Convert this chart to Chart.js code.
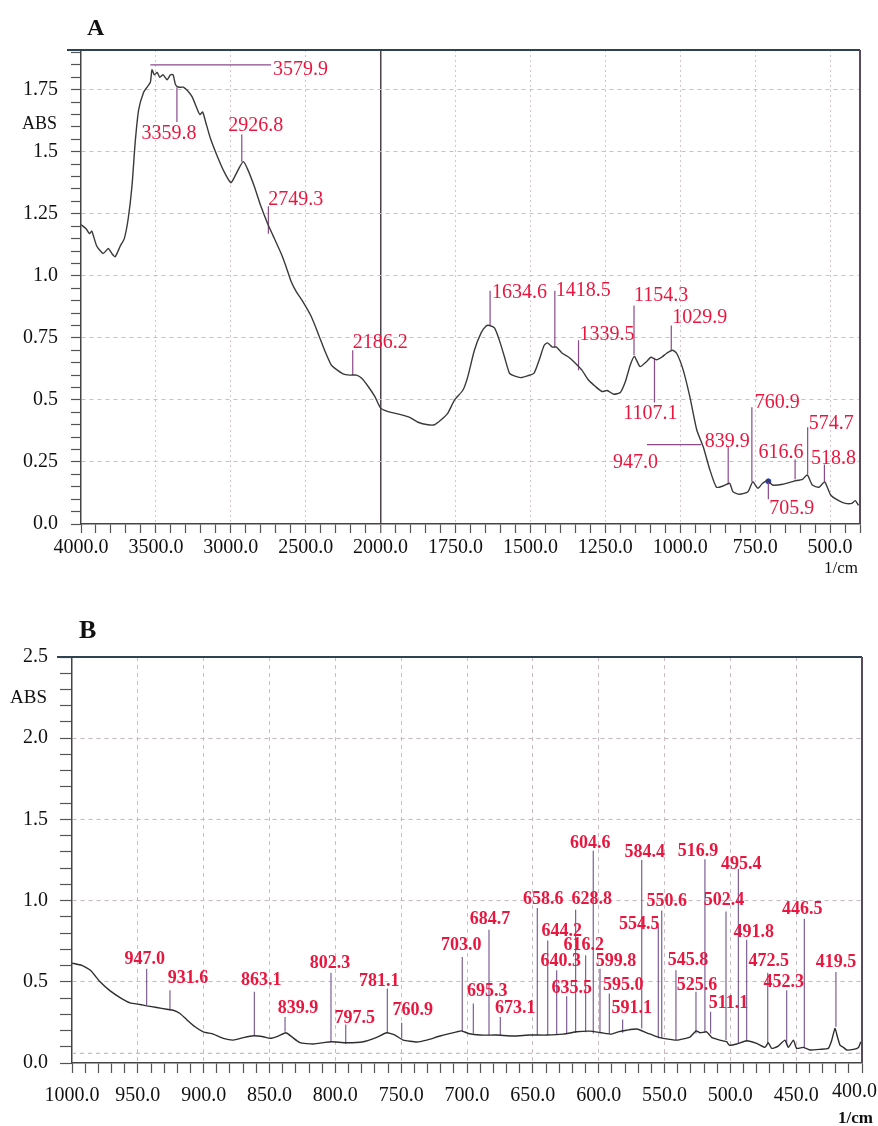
<!DOCTYPE html>
<html>
<head>
<meta charset="utf-8">
<script src="https://cdn.jsdelivr.net/npm/chart.js@4.4.1/dist/chart.umd.min.js"></script>
<style>
  body { margin: 0; background: #fff; }
  canvas { position: absolute; left: 0; }
  #chartA { top: 0; }
  #chartB { top: 580px; }
</style>
</head>
<body>
<canvas id="chartA" width="878" height="580"></canvas>
<canvas id="chartB" width="878" height="546"></canvas>
<script>
// ---- panel A : full spectrum 4000 - 400 1/cm ----
const wnA = [4000, 3966, 3944, 3928, 3895, 3852, 3818, 3794, 3772, 3738, 3711, 3685, 3660, 3638, 3615, 3582,
  3559, 3537, 3526, 3510, 3492, 3474, 3452, 3425, 3403, 3385, 3369, 3347, 3317, 3280, 3257, 3223, 3206, 3188,
  3168, 3134, 3089, 3045, 3000, 2978, 2944, 2917, 2888, 2843, 2799, 2754, 2720, 2664, 2631, 2597, 2564, 2519,
  2463, 2418, 2374, 2329, 2307, 2251, 2206, 2161, 2128, 2083, 2038, 2000, 1975, 1930, 1903, 1875, 1842, 1820,
  1798, 1776, 1753, 1725, 1709, 1687, 1665, 1648, 1637, 1620, 1604, 1587, 1570, 1554, 1532, 1510, 1488, 1471,
  1454, 1443, 1427, 1413, 1394, 1372, 1350, 1328, 1306, 1283, 1261, 1244, 1222, 1200, 1183, 1167, 1153, 1134,
  1112, 1098, 1080, 1062, 1045, 1026, 1012, 990, 968, 945, 923, 901, 879, 857, 835, 824, 802, 774, 758, 741,
  725, 708, 692, 658, 620, 592, 576, 559, 537, 518, 498, 471, 449, 427, 416, 405];
const absA = [1.206, 1.19, 1.17, 1.18, 1.12, 1.09, 1.11, 1.09, 1.077, 1.12, 1.15, 1.23, 1.36, 1.54, 1.67, 1.74,
  1.76, 1.78, 1.83, 1.81, 1.82, 1.80, 1.81, 1.79, 1.81, 1.81, 1.77, 1.76, 1.76, 1.74, 1.72, 1.67, 1.65, 1.66,
  1.62, 1.55, 1.48, 1.42, 1.375, 1.395, 1.435, 1.46, 1.43, 1.36, 1.28, 1.21, 1.165, 1.09, 1.037, 0.977, 0.937, 0.896,
  0.836, 0.769, 0.70, 0.64, 0.628, 0.605, 0.60, 0.60, 0.588, 0.554, 0.513, 0.467, 0.453, 0.44, 0.43, 0.41, 0.40, 0.40,
  0.42, 0.446, 0.50, 0.54, 0.594, 0.70, 0.769, 0.798, 0.80, 0.79, 0.742, 0.675, 0.608, 0.597, 0.59, 0.597, 0.608, 0.66,
  0.72, 0.73, 0.713, 0.713, 0.688, 0.672, 0.648, 0.62, 0.58, 0.554, 0.534, 0.538, 0.523, 0.53, 0.574, 0.64, 0.675, 0.634,
  0.655, 0.672, 0.662, 0.672, 0.688, 0.70, 0.688, 0.62, 0.513, 0.38, 0.31, 0.218, 0.148, 0.153, 0.164, 0.13, 0.12, 0.13, 0.17, 0.144,
  0.164, 0.175, 0.157, 0.16, 0.173, 0.18, 0.198, 0.157, 0.148, 0.17, 0.117, 0.094, 0.083, 0.083, 0.094, 0.075];

// printed peak values, where their leader lines sit on the plot, and leader ends
const peakWnA     = [3579.9, 3359.8, 2926.8, 2749.3, 2186.2, 1634.6, 1418.5, 1339.5, 1154.3, 1107.1, 1029.9, 947.0, 839.9, 760.9, 705.9, 616.6, 574.7, 518.8];
const peakLineWnA = [3537, 3359.8, 2926.8, 2749.3, 2186.2, 1634.6, 1418.5, 1339.5, 1154.3, 1086, 1029.9, 930, 839.9, 760.9, 705.9, 616.6, 574.7, 518.8];
const peakBaseA   = [1.85, 1.76, 1.46, 1.17, 0.60, 0.80, 0.71, 0.62, 0.68, 0.67, 0.70, 0.32, 0.16, 0.17, 0.17, 0.18, 0.20, 0.17];
const peakTipA    = [1.85, 1.62, 1.57, 1.28, 0.70, 0.94, 0.94, 0.74, 0.88, 0.49, 0.80, 0.32, 0.31, 0.47, 0.10, 0.26, 0.39, 0.24];
// horizontal leaders end at another wavenumber, vertical ones use null
const peakEndWnA  = [2731, null, null, null, null, null, null, null, null, null, null, 1111, null, null, null, null, null, null];

const majorTicksA = [4000, 3500, 3000, 2500, 2000, 1750, 1500, 1250, 1000, 750, 500];

// ---- panel B : 1000 - 400 1/cm ----
const wnB = [1000, 992.6, 986, 978.7, 971, 963.5, 955.9, 948.4, 943.3, 935.7, 928.1, 923.1, 918, 913, 906.6, 900.3,
  892.7, 885.1, 877.5, 869.9, 862.3, 854.7, 849.6, 843.3, 837.5, 833.2, 826.8, 816.7, 807.9, 802.8, 791.4, 778.8,
  768.6, 761, 754.7, 748.4, 738.2, 730.6, 720.5, 707.8, 704, 699, 690.1, 677.5, 664.8, 652.2, 639.5, 626.9, 616.7,
  606.6, 597.7, 590.1, 585.1, 578.7, 571.1, 563.5, 555.9, 550.9, 540.8, 530.6, 526, 523, 518, 514.2, 507.9, 502.8,
  500.8, 495.2, 487.6, 480, 473.7, 471.2, 468.6, 463.6, 458.5, 455.9, 452.1, 449.6, 444.5, 439.5, 431.9, 425.6,
  423.1, 420.5, 418.7, 416.7, 414.1, 411.6, 406.5, 402.7, 400.9];
const absB = [0.615, 0.601, 0.571, 0.50, 0.444, 0.403, 0.370, 0.36, 0.352, 0.342, 0.331, 0.325, 0.305, 0.268, 0.223, 0.192,
  0.178, 0.152, 0.141, 0.156, 0.168, 0.162, 0.152, 0.166, 0.186, 0.162, 0.125, 0.117, 0.127, 0.131, 0.125, 0.131,
  0.158, 0.186, 0.172, 0.141, 0.129, 0.141, 0.166, 0.192, 0.198, 0.182, 0.172, 0.172, 0.166, 0.172, 0.172, 0.178, 0.192,
  0.196, 0.186, 0.178, 0.192, 0.202, 0.209, 0.186, 0.162, 0.152, 0.141, 0.160, 0.198, 0.186, 0.192, 0.158, 0.141, 0.131,
  0.11, 0.117, 0.137, 0.121, 0.096, 0.125, 0.09, 0.104, 0.141, 0.096, 0.141, 0.09, 0.096, 0.08, 0.084, 0.09,
  0.137, 0.213, 0.162, 0.11, 0.096, 0.08, 0.084, 0.096, 0.131];

const peakWnB = [947.0, 931.6, 863.1, 839.9, 802.3, 797.5, 781.1, 760.9, 703.0, 695.3, 684.7, 673.1, 658.6, 644.2,
  640.3, 635.5, 628.8, 616.2, 604.6, 599.8, 595.0, 591.1, 584.4, 554.5, 550.6, 545.8, 525.6, 516.9, 511.1, 502.4,
  495.4, 491.8, 472.5, 452.3, 446.5, 419.5];
const peakLineWnB = [943.3, 925.6, 861.5, 838.2, 803.3, 792.1, 760.5, 749.6, 703.6, 695.2, 683.3, 674.7, 646.6, 638.7,
  631.9, 624.3, 617.5, 609.9, 604.1, 599.0, 591.9, 581.8, 567.3, 554.7, 552.1, 541.3, 526.1, 519.3, 515.0, 503.3,
  493.9, 487.6, 471.6, 457.2, 443.8, 419.8];
const peakBaseB = [0.356, 0.325, 0.166, 0.192, 0.131, 0.117, 0.186, 0.152, 0.192, 0.182, 0.172, 0.172, 0.172, 0.172,
  0.172, 0.178, 0.184, 0.19, 0.182, 0.182, 0.178, 0.186, 0.213, 0.152, 0.152, 0.141, 0.182, 0.192, 0.182, 0.141,
  0.121, 0.131, 0.121, 0.11, 0.09, 0.223];
const peakTipB = [0.581, 0.448, 0.438, 0.284, 0.555, 0.237, 0.458, 0.248, 0.652, 0.366, 0.82, 0.284, 0.955, 0.755,
  0.571, 0.411, 0.943, 0.663, 1.307, 0.581, 0.428, 0.268, 1.25, 0.84, 0.939, 0.571, 0.438, 1.254, 0.315, 0.933,
  1.195, 0.759, 0.555, 0.448, 0.888, 0.561];

// label placement (pixels, relative to the leader tip): [align, dx, dy]
const labelPosA = [['left', 2, 10], ['center', -8, 17], ['center', 14, -3], ['left', 0, -1], ['left', 0, -2],
  ['left', 2, 7], ['left', 1, 5], ['left', 1, 0], ['left', 0, -5], ['center', -4, 17], ['left', 1, -2],
  ['right', 11, 23], ['center', -1, 0], ['left', 3, 1], ['left', 1, 15], ['center', -14, -1], ['left', 1, 2], ['center', 9, 0]];
const labelDxB = [-2, 18, 7, 13, -1, 9, -8, 11, -1, 14, 1, 15, 6, 14, 4, 5, 16, -2, -3, 16, 14, 9, 3, -19, 5, 12, 1,
  -7, 18, -2, 3, 7, 1, -3, -2, 0];
const labelDyB = [-5, -7, -7, -4, -5, -2, -3, -8, -7, -8, -6, -4, -4, -4, -4, -3, -6, -5, -3, -3, -3, -6, -3, 2, -5,
  -5, -2, -3, -4, -6, 0, -3, -7, -3, -5, -5];

const SERIF = '"Liberation Serif", "Times New Roman", serif';
const RED = '#e8173f';

// x axis of panel A: scale doubles below 2000 1/cm
const BREAK_WN = 2000, BREAK_GAIN = 2;
class SplitScale extends Chart.LinearScale {
  _units(v) {
    const lo = this.min;
    return v >= BREAK_WN ? BREAK_GAIN * (BREAK_WN - lo) + (v - BREAK_WN) : BREAK_GAIN * (v - lo);
  }
  getPixelForValue(v) {
    if (v === null || v === undefined || isNaN(v)) return NaN;
    return this.getPixelForDecimal(this._units(v) / this._units(this.max));
  }
  getValueForPixel(p) {
    const u = this.getDecimalForPixel(p) * this._units(this.max);
    const k = BREAK_GAIN * (BREAK_WN - this.min);
    return u >= k ? BREAK_WN + (u - k) : this.min + u / BREAK_GAIN;
  }
}
SplitScale.id = 'split';
SplitScale.defaults = Chart.LinearScale.defaults;
Chart.register(SplitScale);

const isMult = (v, s) => Math.abs(v / s - Math.round(v / s)) < 1e-6;
const fmtAbs = v => {
  const r = Math.round(v * 100) / 100;
  return Number.isInteger(r) ? r.toFixed(1) : String(r);
};

function leaderData(lineWn, base, tip, endWn) {
  const out = [];
  lineWn.forEach((w, i) => {
    out.push({ x: w, y: base[i] });
    out.push({ x: endWn && endWn[i] ? endWn[i] : w, y: tip[i] });
    out.push({ x: w, y: null });
  });
  return out;
}

// frame, axis captions and peak labels
const extras = {
  id: 'extras',
  afterDraw(chart, args, o) {
    const { ctx, chartArea: a } = chart;
    const xs = chart.scales.x, ys = chart.scales.y;
    ctx.save();
    ctx.lineWidth = 2;
    ctx.strokeStyle = '#2f4250';
    ctx.beginPath(); ctx.moveTo(a.left - o.topOverhang, a.top); ctx.lineTo(a.right, a.top); ctx.stroke();
    ctx.strokeStyle = '#5b4a5e';
    ctx.beginPath(); ctx.moveTo(a.right, a.top); ctx.lineTo(a.right, a.bottom); ctx.stroke();

    o.texts.forEach(t => {
      ctx.font = t.font;
      ctx.fillStyle = t.color || '#111';
      ctx.textAlign = t.align || 'left';
      ctx.textBaseline = 'alphabetic';
      ctx.fillText(t.text, t.x, t.y);
    });

    const p = o.peaks;
    ctx.font = p.font;
    ctx.fillStyle = RED;
    ctx.textBaseline = 'alphabetic';
    p.wn.forEach((w, i) => {
      const end = p.endWn && p.endWn[i] ? p.endWn[i] : p.lineWn[i];
      const tx = xs.getPixelForValue(end), ty = ys.getPixelForValue(p.tip[i]);
      const [align, dx, dy] = p.pos(i);
      ctx.textAlign = align;
      ctx.fillText(w.toFixed(1), tx + dx, ty + dy);
    });
    ctx.restore();
  }
};
Chart.register(extras);

function zeroPad(scale) {
  scale.paddingLeft = scale.paddingRight = scale.paddingTop = scale.paddingBottom = 0;
}

// ---------- chart A ----------
const ticksA = [];
for (let v = 4000; v > 2000; v -= 100) ticksA.push(v);
for (let v = 2000; v >= 400; v -= 50) ticksA.push(v);

new Chart(document.getElementById('chartA'), {
  type: 'line',
  data: {
    datasets: [
      {
        data: wnA.map((w, i) => ({ x: w, y: absA[i] })),
        borderColor: '#3a3a3a', borderWidth: 1.4, pointRadius: 0, tension: 0.2
      },
      {
        data: leaderData(peakLineWnA, peakBaseA, peakTipA, peakEndWnA),
        borderColor: '#8c4a8c', borderWidth: 1.2, pointRadius: 0, spanGaps: false
      },
      {
        data: [{ x: 705.9, y: 0.172 }],
        borderColor: '#1d3fc0', backgroundColor: '#1d3fc0', pointRadius: 2.5, showLine: false
      }
    ]
  },
  options: {
    responsive: false, animation: false,
    layout: { padding: { left: 0, right: 18, top: 50, bottom: 0 } },
    plugins: {
      legend: { display: false }, tooltip: { enabled: false },
      extras: {
        topOverhang: 14,
        texts: [
          { text: 'A', x: 87, y: 35, font: 'bold 24px ' + SERIF },
          { text: 'ABS', x: 57, y: 129, font: '18px ' + SERIF, align: 'right' },
          { text: '1/cm', x: 858, y: 573, font: '17px ' + SERIF, align: 'right' }
        ],
        peaks: {
          wn: peakWnA, lineWn: peakLineWnA, tip: peakTipA, endWn: peakEndWnA,
          pos: i => labelPosA[i], font: '20px ' + SERIF
        }
      }
    },
    scales: {
      x: {
        type: 'split', min: 400, max: 4000, reverse: true,
        afterBuildTicks: s => { s.ticks = ticksA.map(v => ({ value: v })); },
        afterFit: s => { s.height = 56; zeroPad(s); },
        ticks: {
          autoSkip: false, maxRotation: 0, padding: 3,
          font: { family: SERIF, size: 20 }, color: '#111',
          callback: v => majorTicksA.includes(v) ? v.toFixed(1) : ''
        },
        grid: {
          tickLength: 9, tickColor: '#555', tickWidth: 1.2,
          color: c => (c.tick.value === 2000 ? '#4a4248' : (majorTicksA.includes(c.tick.value) && c.tick.value !== 4000 ? '#d8c4cc' : 'transparent')),
          lineWidth: c => (c.tick.value === 2000 ? 1.5 : 1)
        },
        border: { color: '#444', width: 1.5, dash: c => (c.tick && c.tick.value === 2000 ? [] : [2, 3]) }
      },
      y: {
        min: 0, max: 1.91,
        afterBuildTicks: s => {
          const t = [];
          for (let k = 0; k <= 38; k++) t.push({ value: Math.round(k * 5) / 100 });
          s.ticks = t;
        },
        afterFit: s => { s.width = 81; zeroPad(s); },
        ticks: {
          autoSkip: false, padding: 13,
          font: { family: SERIF, size: 20 }, color: '#111',
          callback: v => (isMult(v, 0.25) ? fmtAbs(v) : '')
        },
        grid: {
          tickLength: 10, tickColor: '#555', tickWidth: 1.2,
          color: c => (isMult(c.tick.value, 0.25) && c.tick.value > 0 ? '#a9cbdc' : 'transparent')
        },
        border: { color: '#444', width: 1.5, dash: [4, 4] }
      }
    }
  }
});

// ---------- chart B ----------
new Chart(document.getElementById('chartB'), {
  type: 'line',
  data: {
    datasets: [
      {
        data: wnB.map((w, i) => ({ x: w, y: absB[i] })),
        borderColor: '#2e2e2e', borderWidth: 1.4, pointRadius: 0, tension: 0.15
      },
      {
        data: leaderData(peakLineWnB, peakBaseB, peakTipB, null),
        borderColor: '#7d5f96', borderWidth: 1.2, pointRadius: 0, spanGaps: false
      },
      {
        data: [{ x: 1000, y: 0.06 }, { x: 400, y: 0.06 }],
        borderColor: '#b9aab4', borderWidth: 1, borderDash: [4, 4], pointRadius: 0
      }
    ]
  },
  options: {
    responsive: false, animation: false,
    layout: { padding: { left: 0, right: 16, top: 77, bottom: 0 } },
    plugins: {
      legend: { display: false }, tooltip: { enabled: false },
      extras: {
        topOverhang: 15,
        texts: [
          { text: 'B', x: 79, y: 58, font: 'bold 26px ' + SERIF },
          { text: 'ABS', x: 47, y: 123, font: '19px ' + SERIF, align: 'right' },
          { text: '400.0', x: 877, y: 517, font: '20px ' + SERIF, align: 'right' },
          { text: '1/cm', x: 873, y: 543, font: 'bold 17px ' + SERIF, align: 'right' }
        ],
        peaks: {
          wn: peakWnB, lineWn: peakLineWnB, tip: peakTipB, endWn: null,
          pos: i => ['center', labelDxB[i], labelDyB[i]], font: 'bold 18px ' + SERIF
        }
      }
    },
    scales: {
      x: {
        type: 'linear', min: 400, max: 1000, reverse: true,
        afterBuildTicks: s => {
          const t = [];
          for (let v = 1000; v >= 400; v -= 10) t.push({ value: v });
          s.ticks = t;
        },
        afterFit: s => { s.height = 63; zeroPad(s); },
        ticks: {
          autoSkip: false, maxRotation: 0, padding: 11,
          font: { family: SERIF, size: 20 }, color: '#111',
          callback: v => (isMult(v, 50) && v !== 400 ? v.toFixed(1) : '')
        },
        grid: {
          tickLength: 10, tickColor: '#555', tickWidth: 1.2,
          color: c => (isMult(c.tick.value, 50) && c.tick.value !== 1000 && c.tick.value !== 400 ? '#cdbcc4' : 'transparent')
        },
        border: { color: '#444', width: 1.5, dash: [4, 4] }
      },
      y: {
        min: 0, max: 2.5,
        afterBuildTicks: s => {
          const t = [];
          for (let k = 0; k <= 25; k++) t.push({ value: k / 10 });
          s.ticks = t;
        },
        afterFit: s => { s.width = 72; zeroPad(s); },
        ticks: {
          autoSkip: false, padding: 12,
          font: { family: SERIF, size: 20 }, color: '#111',
          callback: v => (isMult(v, 0.5) ? v.toFixed(1) : '')
        },
        grid: {
          tickLength: 12, tickColor: '#555', tickWidth: 1.2,
          color: c => (isMult(c.tick.value, 0.5) && c.tick.value > 0 && c.tick.value < 2.5 ? '#c9b6c0' : 'transparent')
        },
        border: { color: '#444', width: 1.5, dash: [4, 4] }
      }
    }
  }
});
</script>
</body>
</html>
